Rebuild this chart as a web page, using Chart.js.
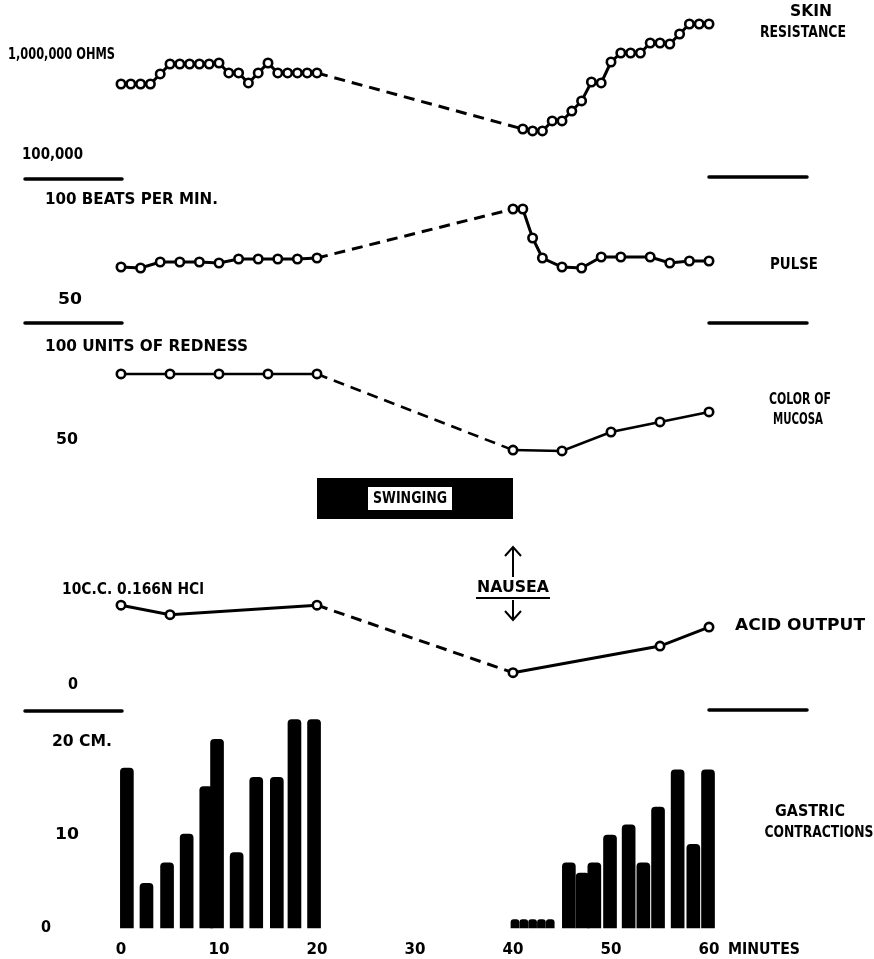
<!DOCTYPE html>
<html>
<head>
<meta charset="utf-8">
<script src="https://cdn.jsdelivr.net/npm/chart.js@4.4.1/dist/chart.umd.min.js"></script>
<style>
  html, body { margin: 0; padding: 0; background: #fff; }
  canvas { display: block; }
</style>
</head>
<body>
<canvas id="chart" width="874" height="959"></canvas>
<script>
// minutes on the shared time axis
const xTicks = [0, 10, 20, 30, 40, 50, 60];

// skin resistance (ohms), readings every minute
const skinMinutes = [0, 1, 2, 3, 4, 5, 6, 7, 8, 9, 10, 11, 12, 13, 14, 15, 16, 17, 18, 19, 20,
  41, 42, 43, 44, 45, 46, 47, 48, 49, 50, 51, 52, 53, 54, 55, 56, 57, 58, 59, 60];
const skinOhms = [513000, 513000, 513000, 513000, 646000, 813000, 813000, 813000, 813000, 813000, 832000,
  661000, 661000, 525000, 661000, 832000, 661000, 661000, 661000, 661000, 661000,
  182000, 174000, 174000, 219000, 219000, 275000, 347000, 537000, 525000, 851000,
  1047000, 1047000, 1047000, 1318000, 1318000, 1288000, 1622000, 2042000, 2042000, 2042000];
const skinTicks = [1000000, 100000];
const skinTickText = ['1,000,000 OHMS', '100,000'];

// pulse (beats per minute)
const pulseMinutes = [0, 2, 4, 6, 8, 10, 12, 14, 16, 18, 20, 40, 41, 42, 43, 45, 47, 49, 51, 54, 56, 58, 60];
const pulseBeats = [66.5, 66, 69, 69, 69, 68.5, 70.5, 70.5, 70.5, 70.5, 71,
  95.5, 95.5, 81, 71, 66.5, 66, 71.5, 71.5, 71.5, 68.5, 69.5, 69.5];
const pulseTicks = [100, 50];
const pulseTickText = ['100 BEATS PER MIN.', '50'];

// colour of mucosa (units of redness)
const mucosaMinutes = [0, 5, 10, 15, 20, 40, 45, 50, 55, 60];
const mucosaRedness = [85.5, 85.5, 85.5, 85.5, 85.5, 44.6, 44.1, 54.3, 59.7, 65.1];
const mucosaTicks = [100, 50];
const mucosaTickText = ['100 UNITS OF REDNESS', '50'];

// acid output (c.c. 0.166N HCl)
const acidMinutes = [0, 5, 20, 40, 55, 60];
const acidCC = [8.4, 7.4, 8.4, 1.3, 4.1, 6.1];
const acidTicks = [10, 0];
const acidTickText = ['10C.C. 0.166N HCl', '0'];

// gastric contractions (cm)
const gastricMinutesA = [0.6, 2.6, 4.7, 6.7, 8.7, 9.8, 11.8, 13.8, 15.9, 17.7, 19.7];
const gastricCmA = [17.2, 4.8, 7.0, 10.1, 15.2, 20.3, 8.1, 16.2, 16.2, 22.4, 22.4];
const gastricMinutesB = [40.2, 41.1, 42.0, 42.9, 43.8];
const gastricCmB = [0.9, 0.9, 0.9, 0.9, 0.9];
const gastricMinutesC = [45.7, 47.1, 48.3, 49.9, 51.8, 53.3, 54.8, 56.8, 58.4, 59.9];
const gastricCmC = [7.0, 5.9, 7.0, 10.0, 11.1, 7.0, 13.0, 17.0, 9.0, 17.0];
const gastricTicks = [20, 10, 0];
const gastricTickText = ['20 CM.', '10', '0'];

const H = 959;
const pts = (xs, ys) => xs.map((x, i) => ({ x: x, y: ys[i] }));

// axis range so that v1 lands at pixel y1 and v2 at y2 on the full-height canvas
function linRange(v1, y1, v2, y2) {
  const k = (y2 - y1) / (v1 - v2);
  return { min: v2 - (H - y2) / k, max: v1 + y1 / k };
}
function logRange(v1, y1, v2, y2) {
  const r = linRange(Math.log10(v1), y1, Math.log10(v2), y2);
  return { min: Math.pow(10, r.min), max: Math.pow(10, r.max) };
}

const gap = ctx => ctx.p0.parsed.x < 30 && ctx.p1.parsed.x > 30;
const lineStyle = {
  type: 'line',
  borderColor: '#000',
  borderWidth: 3,
  pointRadius: 4.2,
  pointBorderWidth: 2.6,
  pointBackgroundColor: '#fff',
  pointBorderColor: '#000',
  tension: 0,
  clip: false,
  segment: { borderDash: ctx => gap(ctx) ? [11, 7] : undefined }
};
const barStyle = {
  type: 'bar',
  backgroundColor: '#000',
  barThickness: 13,
  grouped: false,
  borderRadius: 4,
  clip: false,
  yAxisID: 'yGastric'
};

function fitText(ctx, text, x, y, w, size, align) {
  ctx.save();
  ctx.font = 'bold ' + size + 'px "DejaVu Sans"';
  ctx.textBaseline = 'middle';
  ctx.textAlign = 'left';
  const nat = ctx.measureText(text).width;
  const s = w / nat;
  const left = align === 'center' ? x - w / 2 : x;
  ctx.translate(left, y);
  ctx.scale(s, 1);
  ctx.fillStyle = '#000';
  ctx.fillText(text, 0, 0);
  ctx.restore();
}

const decorations = {
  id: 'decorations',
  afterDraw(chart) {
    const ctx = chart.ctx;
    const xs = chart.scales.x;

    // panel separators
    ctx.save();
    ctx.strokeStyle = '#000';
    ctx.lineWidth = 3.5;
    ctx.lineCap = 'round';
    [[25, 122, 179], [709, 807, 177], [25, 122, 323], [709, 807, 323], [25, 122, 711], [709, 807, 710]]
      .forEach(s => { ctx.beginPath(); ctx.moveTo(s[0], s[2]); ctx.lineTo(s[1], s[2]); ctx.stroke(); });
    ctx.restore();

    // left value labels
    const left = [
      ['ySkin', skinTicks, skinTickText, [[8, 107], [22, 61]]],
      ['yPulse', pulseTicks, pulseTickText, [[45, 173], [58, 24]]],
      ['yMucosa', mucosaTicks, mucosaTickText, [[45, 203], [56, 22]]],
      ['yAcid', acidTicks, acidTickText, [[62, 142], [68, 10]]],
      ['yGastric', gastricTicks, gastricTickText, [[52, 60], [55, 24], [41, 10]]]
    ];
    left.forEach(([id, ticks, text, pos]) => {
      const sc = chart.scales[id];
      ticks.forEach((v, i) => fitText(ctx, text[i], pos[i][0], sc.getPixelForValue(v), pos[i][1], 16, 'left'));
    });

    // right-hand titles
    fitText(ctx, 'SKIN', 811, 12, 42, 16, 'center');
    fitText(ctx, 'RESISTANCE', 803, 33, 86, 16, 'center');
    fitText(ctx, 'PULSE', 794, 265, 48, 16, 'center');
    fitText(ctx, 'COLOR OF', 800, 400, 62, 16, 'center');
    fitText(ctx, 'MUCOSA', 798, 420, 50, 16, 'center');
    fitText(ctx, 'ACID OUTPUT', 800, 626, 130, 16, 'center');
    fitText(ctx, 'GASTRIC', 810, 812, 70, 16, 'center');
    fitText(ctx, 'CONTRACTIONS', 819, 833, 109, 16, 'center');

    // time axis labels
    xTicks.forEach(t => {
      const txt = String(t);
      fitText(ctx, txt, xs.getPixelForValue(t), 950, txt.length * 10.5, 16, 'center');
    });
    fitText(ctx, 'MINUTES', 728, 950, 72, 16, 'left');

    // swinging period bar (20-40 min)
    const x20 = xs.getPixelForValue(20), x40 = xs.getPixelForValue(40);
    ctx.save();
    ctx.fillStyle = '#000';
    ctx.fillRect(x20, 478, x40 - x20, 41);
    ctx.fillStyle = '#fff';
    ctx.fillRect(368, 487, 84, 23);
    ctx.restore();
    fitText(ctx, 'SWINGING', 410, 499, 74, 15, 'center');

    // nausea marker at 40 min
    const xn = xs.getPixelForValue(40);
    fitText(ctx, 'NAUSEA', xn, 588, 72, 16, 'center');
    ctx.save();
    ctx.strokeStyle = '#000';
    ctx.lineWidth = 2;
    ctx.beginPath();
    ctx.moveTo(xn - 37, 598); ctx.lineTo(xn + 37, 598);
    ctx.moveTo(xn, 577); ctx.lineTo(xn, 547);
    ctx.moveTo(xn - 8, 556); ctx.lineTo(xn, 547); ctx.lineTo(xn + 8, 556);
    ctx.moveTo(xn, 600); ctx.lineTo(xn, 620);
    ctx.moveTo(xn - 8, 611); ctx.lineTo(xn, 620); ctx.lineTo(xn + 8, 611);
    ctx.stroke();
    ctx.restore();
  }
};

new Chart(document.getElementById('chart'), {
  type: 'line',
  data: {
    datasets: [
      Object.assign({}, lineStyle, { label: 'Skin resistance', data: pts(skinMinutes, skinOhms), yAxisID: 'ySkin' }),
      Object.assign({}, lineStyle, { label: 'Pulse', data: pts(pulseMinutes, pulseBeats), yAxisID: 'yPulse' }),
      Object.assign({}, lineStyle, { label: 'Color of mucosa', data: pts(mucosaMinutes, mucosaRedness), yAxisID: 'yMucosa', borderWidth: 2.6 }),
      Object.assign({}, lineStyle, { label: 'Acid output', data: pts(acidMinutes, acidCC), yAxisID: 'yAcid' }),
      Object.assign({}, barStyle, { label: 'Gastric contractions', data: pts(gastricMinutesA, gastricCmA) }),
      Object.assign({}, barStyle, { label: 'Gastric contractions (low)', data: pts(gastricMinutesB, gastricCmB), barThickness: 8, borderRadius: 3 }),
      Object.assign({}, barStyle, { label: 'Gastric contractions (late)', data: pts(gastricMinutesC, gastricCmC) })
    ]
  },
  options: {
    responsive: false,
    animation: false,
    layout: { autoPadding: false, padding: { left: 121, right: 165, top: 0, bottom: 0 } },
    plugins: { legend: { display: false }, tooltip: { enabled: false } },
    scales: {
      x: { type: 'linear', min: 0, max: 60, offset: false, display: false },
      ySkin: Object.assign({ type: 'logarithmic', display: false, bounds: 'data' }, logRange(1000000, 55, 100000, 155)),
      yPulse: Object.assign({ type: 'linear', display: false }, linRange(100, 200, 50, 300)),
      yMucosa: Object.assign({ type: 'linear', display: false }, linRange(100, 347, 50, 440)),
      yAcid: Object.assign({ type: 'linear', display: false }, linRange(10, 590, 0, 685)),
      yGastric: Object.assign({ type: 'linear', display: false }, linRange(20, 742, 0, 928))
    }
  },
  plugins: [decorations]
});
</script>
</body>
</html>
